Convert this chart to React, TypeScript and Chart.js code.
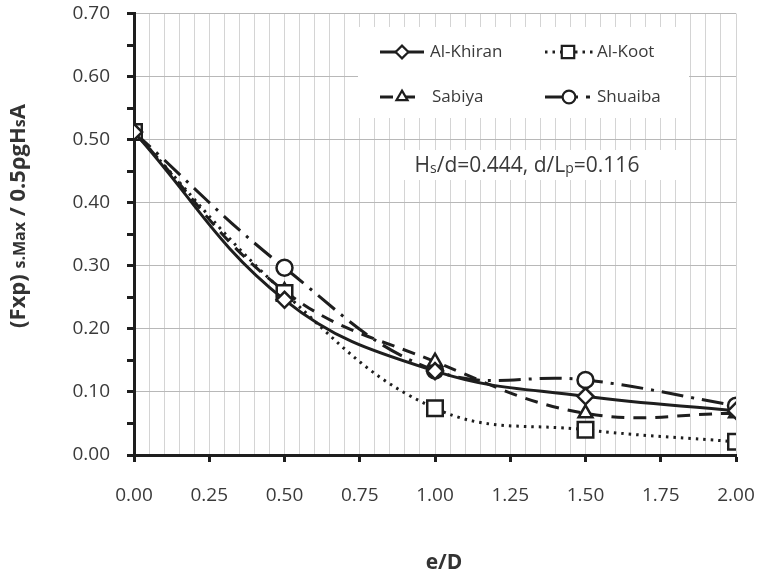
import React, { useEffect, useRef } from 'react';
import { Chart, registerables } from 'chart.js';

Chart.register(...registerables);

const xValues = [0, 0.5, 1.0, 1.5, 2.0];
const seriesNames = ['Al-Khiran', 'Al-Koot', 'Sabiya', 'Shuaiba'];
const alKhiran = [0.512, 0.246, 0.133, 0.093, 0.070];
const alKoot = [0.512, 0.257, 0.074, 0.040, 0.021];
const sabiya = [0.512, 0.260, 0.148, 0.066, 0.066];
const shuaiba = [0.512, 0.297, 0.134, 0.119, 0.078];
const xMajorTicks = [0, 0.25, 0.5, 0.75, 1.0, 1.25, 1.5, 1.75, 2.0];
const yMajorTicks = [0, 0.1, 0.2, 0.3, 0.4, 0.5, 0.6, 0.7];

const INK = '#1e1e1e';
const TEXT = '#3a3a3a';
const FONT = '"Open Sans", "Liberation Sans", sans-serif';

const styles = [
  { style: 'rectRot', radius: 8, dash: [] as number[] },
  { style: 'rect', radius: 11, dash: [2.5, 5] },
  { style: 'triangle', radius: 8, dash: [13, 9] },
  { style: 'circle', radius: 8, dash: [22, 8, 3, 8] },
];

const isMajor = (v: number, list: number[]) => list.some((m) => Math.abs(m - v) < 1e-6);

type Part = { t: string; size: number; dy?: number };

function drawRich(ctx: CanvasRenderingContext2D, parts: Part[], x: number, y: number, bold: boolean) {
  let total = 0;
  const widths = parts.map((p) => {
    ctx.font = `${bold ? 'bold ' : ''}${p.size}px ${FONT}`;
    const w = ctx.measureText(p.t).width;
    total += w;
    return w;
  });
  let cx = x - total / 2;
  ctx.textBaseline = 'alphabetic';
  ctx.textAlign = 'left';
  parts.forEach((p, i) => {
    ctx.font = `${bold ? 'bold ' : ''}${p.size}px ${FONT}`;
    ctx.fillText(p.t, cx, y + (p.dy || 0));
    cx += widths[i];
  });
}

function drawMarker(ctx: CanvasRenderingContext2D, kind: string, x: number, y: number, r: number) {
  ctx.beginPath();
  if (kind === 'rectRot') {
    ctx.moveTo(x - r, y);
    ctx.lineTo(x, y - r);
    ctx.lineTo(x + r, y);
    ctx.lineTo(x, y + r);
    ctx.closePath();
  } else if (kind === 'rect') {
    const s = r * Math.SQRT1_2;
    ctx.rect(x - s, y - s, 2 * s, 2 * s);
  } else if (kind === 'triangle') {
    ctx.moveTo(x, y - r);
    ctx.lineTo(x + r * 0.866, y + r * 0.5);
    ctx.lineTo(x - r * 0.866, y + r * 0.5);
    ctx.closePath();
  } else {
    ctx.arc(x, y, r, 0, Math.PI * 2);
  }
  ctx.fillStyle = '#fff';
  ctx.fill();
  ctx.setLineDash([]);
  ctx.lineWidth = 2.2;
  ctx.strokeStyle = INK;
  ctx.stroke();
}

const overlayPlugin = {
  id: 'overlay',
  beforeDatasetsDraw(chart: any) {
    const ctx: CanvasRenderingContext2D = chart.ctx;
    ctx.save();
    ctx.fillStyle = '#ffffff';
    ctx.fillRect(358, 27, 331, 91);
    ctx.fillRect(402, 150, 284, 30);
    ctx.restore();
  },
  afterDraw(chart: any) {
    const ctx: CanvasRenderingContext2D = chart.ctx;
    ctx.save();
    const items = [
      { x1: 380, x2: 424, mx: 402, tx: 430, y: 52 },
      { x1: 545, x2: 593, mx: 568, tx: 597, y: 52 },
      { x1: 380, x2: 418, mx: 402, tx: 432, y: 97 },
      { x1: 545, x2: 590, mx: 569, tx: 597, y: 97 },
    ];
    items.forEach((it, i) => {
      const st = styles[i];
      ctx.beginPath();
      ctx.setLineDash(st.dash);
      ctx.lineDashOffset = 0;
      ctx.strokeStyle = INK;
      ctx.lineWidth = 3;
      ctx.moveTo(it.x1, it.y);
      ctx.lineTo(it.x2, it.y);
      ctx.stroke();
      drawMarker(ctx, st.style, it.mx, it.y, st.radius * 0.8);
      ctx.fillStyle = TEXT;
      ctx.font = `17px ${FONT}`;
      ctx.textAlign = 'left';
      ctx.textBaseline = 'middle';
      ctx.fillText(seriesNames[i], it.tx, it.y);
    });
    ctx.fillStyle = TEXT;
    drawRich(
      ctx,
      [
        { t: 'H', size: 21 },
        { t: 's', size: 14, dy: 1 },
        { t: '/d=0.444, d/L', size: 21 },
        { t: 'p', size: 14, dy: 1 },
        { t: '=0.116', size: 21 },
      ],
      527,
      172,
      false
    );
    ctx.save();
    ctx.translate(25, 216);
    ctx.rotate(-Math.PI / 2);
    ctx.fillStyle = '#333';
    drawRich(
      ctx,
      [
        { t: '(Fxp) ', size: 22 },
        { t: 's.Max', size: 16 },
        { t: ' / 0.5\u03C1gH', size: 22 },
        { t: 's', size: 16 },
        { t: 'A', size: 22 },
      ],
      0,
      0,
      true
    );
    ctx.restore();
    ctx.fillStyle = '#333';
    ctx.font = `bold 21px ${FONT}`;
    ctx.textAlign = 'center';
    ctx.textBaseline = 'alphabetic';
    ctx.fillText('e/D', 444, 569);
    ctx.restore();
  },
};

export default function App() {
  const ref = useRef<HTMLCanvasElement | null>(null);
  useEffect(() => {
    if (!ref.current) return;
    const all = [alKhiran, alKoot, sabiya, shuaiba];
    const chart = new Chart(ref.current, {
      type: 'line',
      data: {
        datasets: all.map((vals, i) => ({
          label: seriesNames[i],
          data: xValues.map((x, j) => ({ x, y: vals[j] })),
          borderColor: INK,
          borderWidth: 3,
          borderDash: styles[i].dash,
          borderCapStyle: 'butt',
          tension: 0.4,
          fill: false,
          pointStyle: styles[i].style as any,
          pointRadius: styles[i].radius,
          pointBackgroundColor: '#ffffff',
          pointBorderColor: INK,
          pointBorderWidth: 2.5,
        })),
      },
      options: {
        animation: false,
        responsive: false,
        devicePixelRatio: 1,
        layout: { padding: { left: 0, right: 24, top: 13, bottom: 0 } },
        plugins: { legend: { display: false }, tooltip: { enabled: false } },
        scales: {
          x: {
            type: 'linear',
            min: 0,
            max: 2,
            afterFit: (s: any) => {
              s.height = 123;
              s.paddingLeft = 0;
              s.paddingRight = 0;
            },
            afterBuildTicks: (s: any) => {
              const t = [];
              for (let k = 0; k <= 40; k++) t.push({ value: k * 0.05 });
              s.ticks = t;
            },
            ticks: {
              autoSkip: false,
              maxRotation: 0,
              padding: 22,
              color: TEXT,
              font: { family: FONT, size: 19 },
              callback: (v: any) => (isMajor(Number(v), xMajorTicks) ? Number(v).toFixed(2) : ''),
            },
            grid: {
              color: (c: any) => (c.tick && Math.abs(c.tick.value) < 1e-6 ? 'rgba(0,0,0,0)' : '#d4d4d4'),
              lineWidth: 1,
              tickLength: 7,
              tickWidth: 3,
              tickColor: (c: any) => (c.tick && isMajor(c.tick.value, xMajorTicks) ? INK : 'rgba(0,0,0,0)'),
            },
            border: { color: INK, width: 3 },
          },
          y: {
            type: 'linear',
            min: 0,
            max: 0.7,
            afterFit: (s: any) => {
              s.width = 134;
              s.paddingTop = 0;
              s.paddingBottom = 0;
            },
            afterBuildTicks: (s: any) => {
              const t = [];
              for (let k = 0; k <= 14; k++) t.push({ value: k * 0.05 });
              s.ticks = t;
            },
            ticks: {
              autoSkip: false,
              padding: 17,
              color: TEXT,
              font: { family: FONT, size: 19 },
              callback: (v: any) => (isMajor(Number(v), yMajorTicks) ? Number(v).toFixed(2) : ''),
            },
            grid: {
              color: (c: any) =>
                c.tick && isMajor(c.tick.value, yMajorTicks) && c.tick.value > 1e-6 ? '#b8b8b8' : 'rgba(0,0,0,0)',
              lineWidth: 1,
              tickLength: 7,
              tickWidth: 3,
              tickColor: INK,
            },
            border: { color: INK, width: 3 },
          },
        },
      },
      plugins: [overlayPlugin],
    } as any);
    return () => chart.destroy();
  }, []);
  return (
    <div style={{ position: 'absolute', left: 0, top: 0, width: 760, height: 578, background: '#fff' }}>
      <canvas ref={ref} width={760} height={578} style={{ width: 760, height: 578 }} />
    </div>
  );
}
